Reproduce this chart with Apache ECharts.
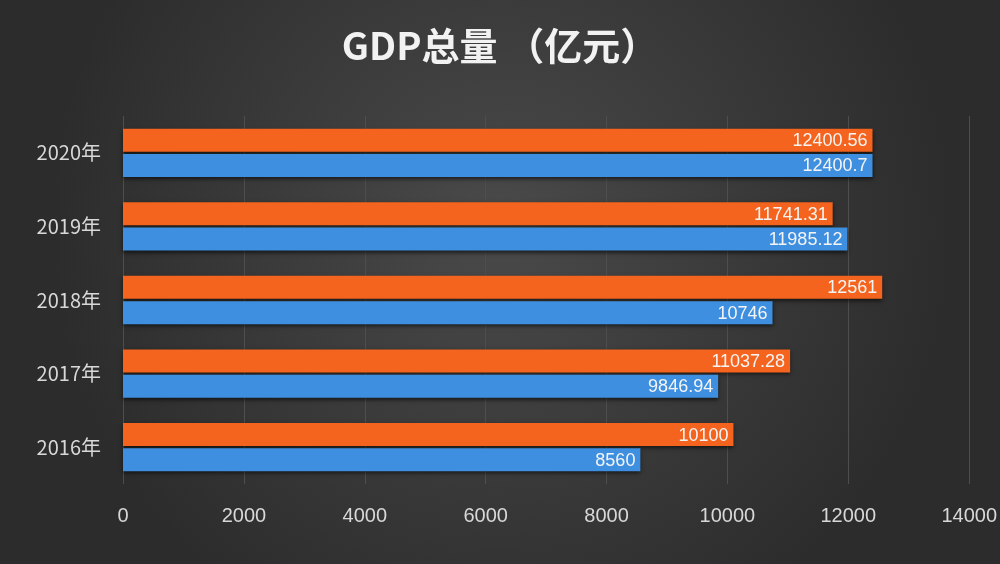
<!DOCTYPE html>
<html><head><meta charset="utf-8">
<script src="https://cdn.jsdelivr.net/npm/echarts@6/dist/echarts.min.js"></script>
<style>html,body{margin:0;padding:0;background:#3a3a3a}#c{width:1000px;height:564px}</style>
</head><body><div id="c"></div>
<script>
var years = ['2016年', '2017年', '2018年', '2019年', '2020年'];
var orangeVals = [10100, 11037.28, 12561, 11741.31, 12400.56];
var blueVals = [8560, 9846.94, 10746, 11985.12, 12400.7];

var chart = echarts.init(document.getElementById('c'));
var lbl = {show: true, position: 'insideRight', color: '#f4f4f4', fontSize: 18, fontFamily: 'Liberation Sans', offset: [0, 1]};
chart.setOption({
  backgroundColor: new echarts.graphic.RadialGradient(0.5, 0.4, 0.8, [
    {offset: 0, color: '#4a4a4a'}, {offset: 1, color: '#2c2c2c'}]),
  title: {text: 'GDP总量 （亿元）', left: 'center', top: 22,
    textStyle: {color: '#f2f2f2', fontSize: 38, fontWeight: 'bold', fontFamily: 'Noto Sans CJK SC'}},
  grid: {left: 123, right: 22, top: 116, bottom: 80},
  xAxis: {type: 'value', min: 0, max: 14000, interval: 2000,
    axisLabel: {color: '#d8d8d8', fontSize: 20, margin: 22, fontFamily: 'Liberation Sans',
      formatter: function (v) { return String(v); }},
    axisLine: {show: false}, axisTick: {show: false},
    splitLine: {lineStyle: {color: '#4e4e4e', width: 1}}},
  yAxis: {type: 'category', data: years,
    axisLabel: {color: '#d8d8d8', fontSize: 20, margin: 22, fontFamily: 'Noto Sans CJK SC'},
    axisLine: {show: false}, axisTick: {show: false}},
  series: [
    {type: 'bar', data: orangeVals, barWidth: 23, barGap: '10%',
      itemStyle: {color: '#f5641e', shadowColor: 'rgba(0,0,0,0.6)', shadowBlur: 4, shadowOffsetY: 2},
      label: lbl},
    {type: 'bar', data: blueVals, barWidth: 23,
      itemStyle: {color: '#3f8fe0', shadowColor: 'rgba(0,0,0,0.6)', shadowBlur: 4, shadowOffsetY: 2},
      label: lbl}
  ]
});
</script></body></html>
